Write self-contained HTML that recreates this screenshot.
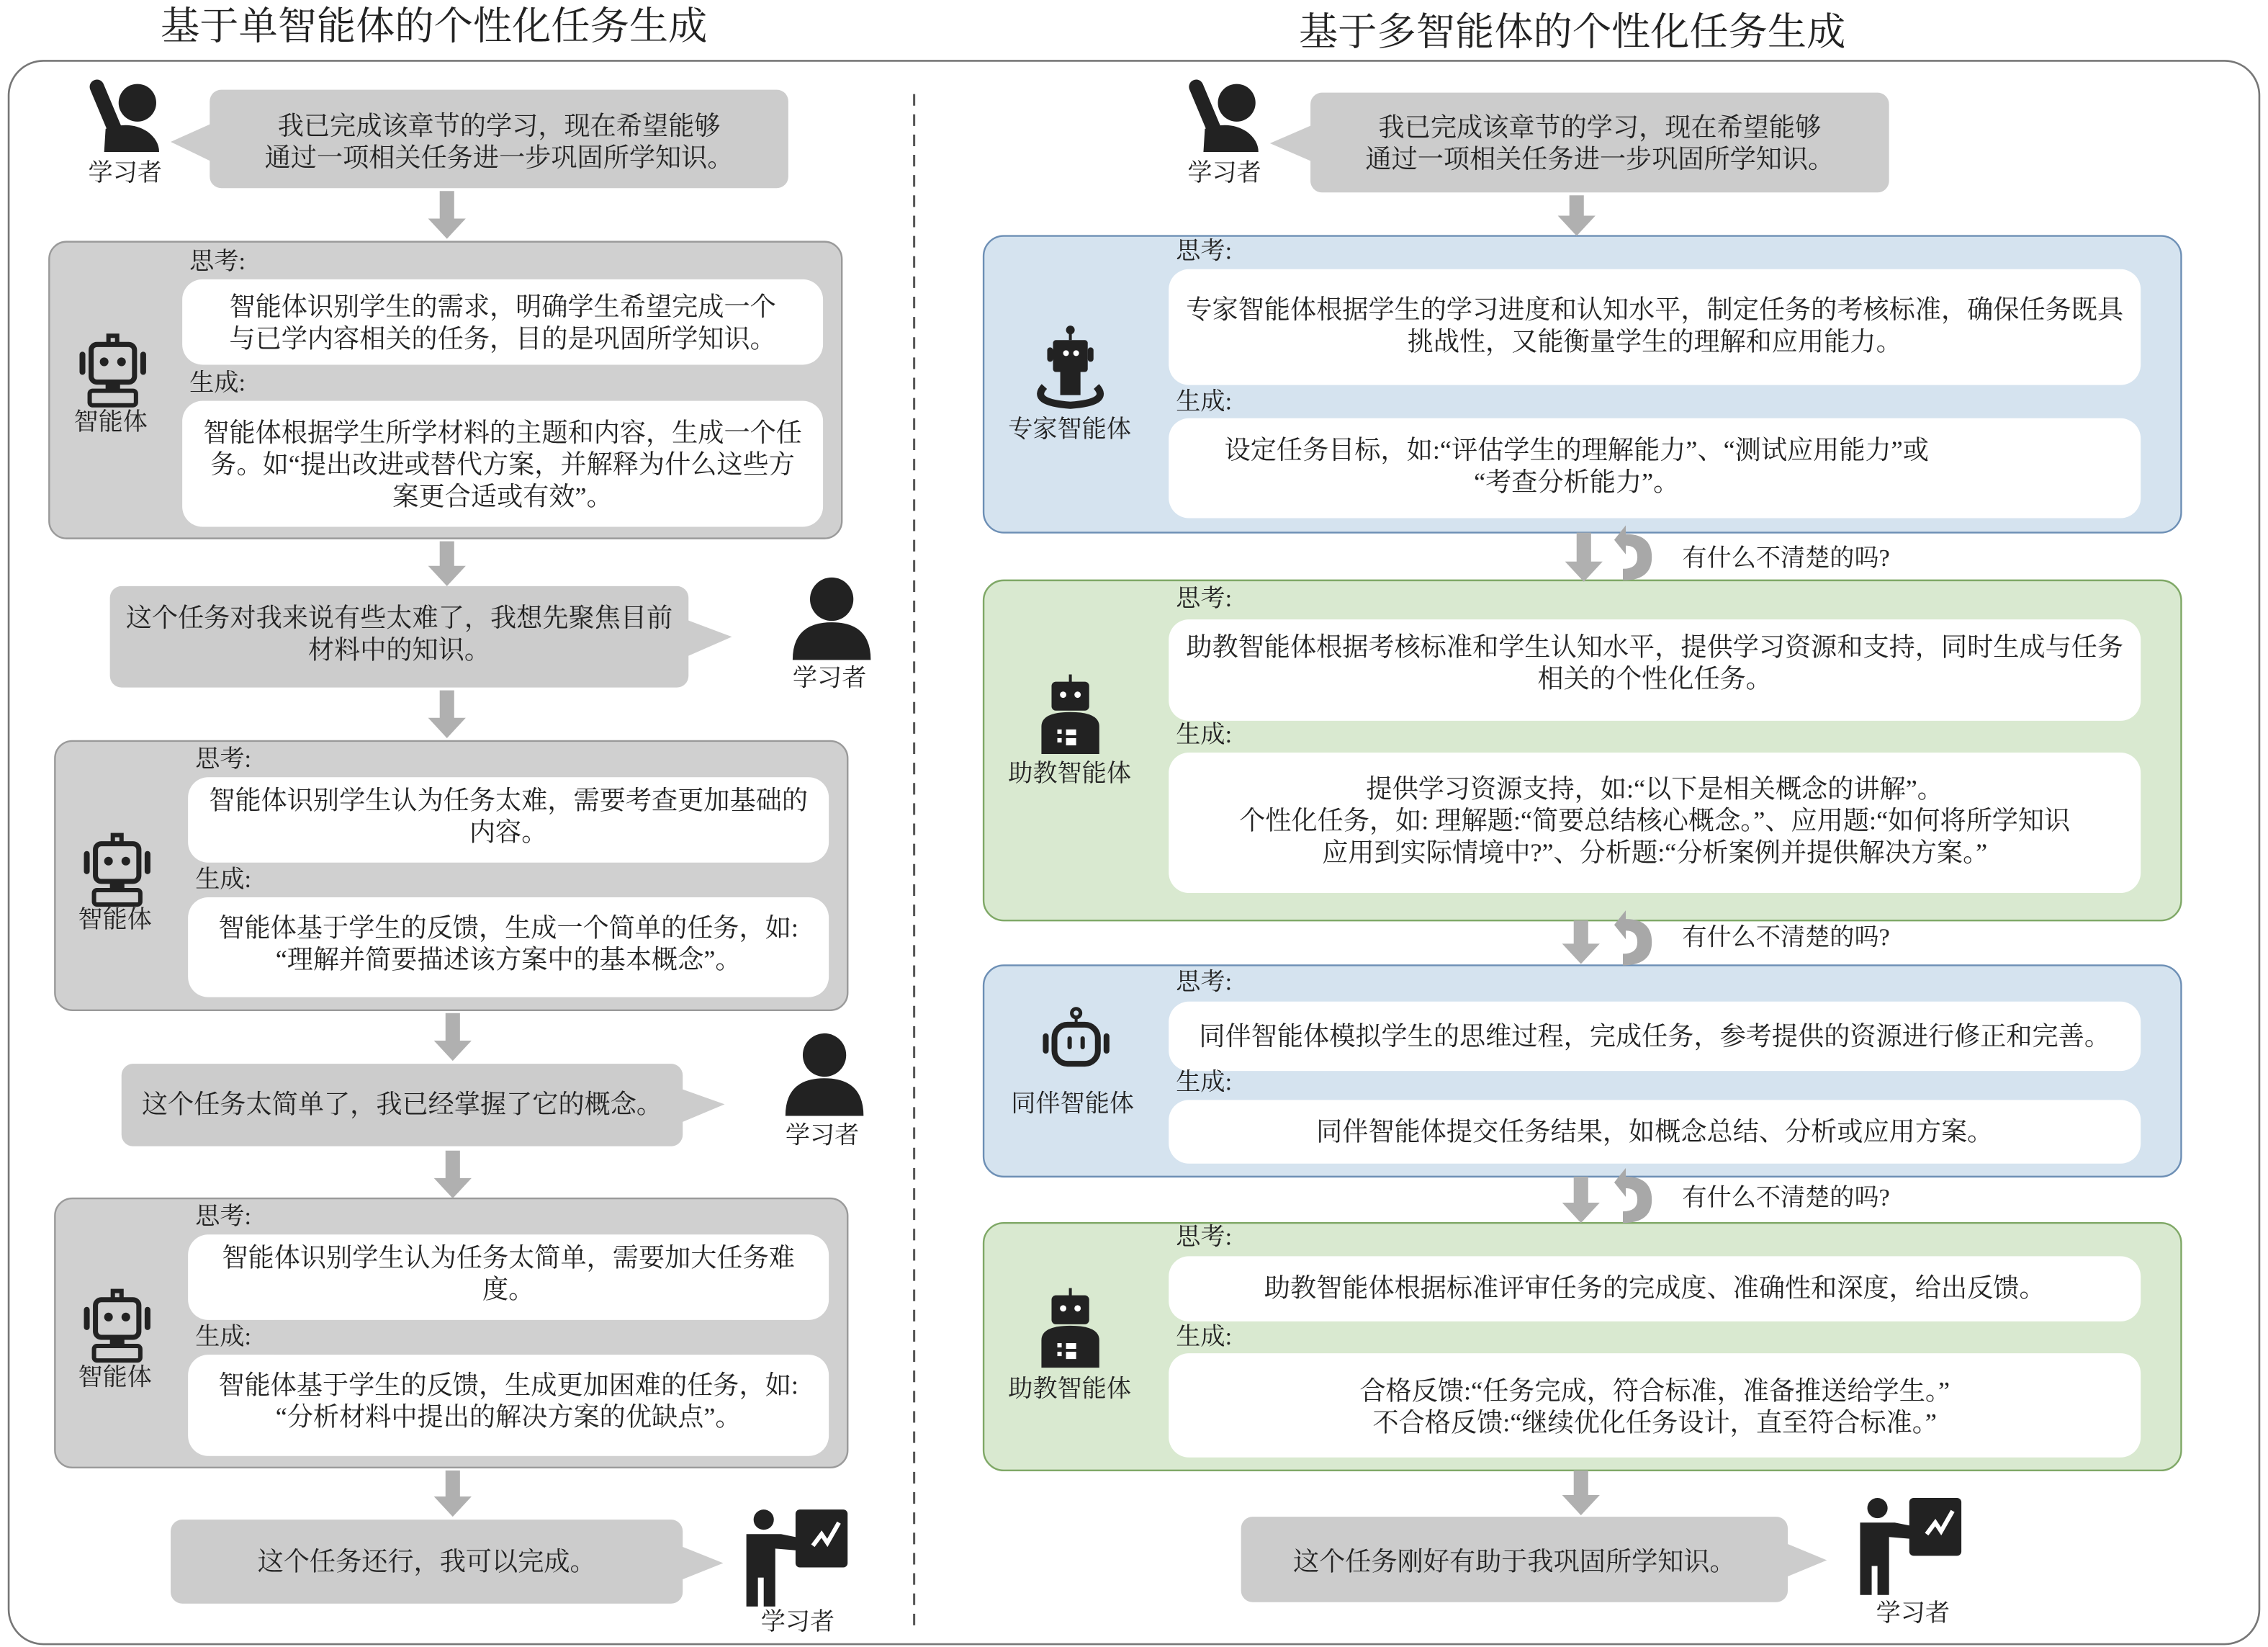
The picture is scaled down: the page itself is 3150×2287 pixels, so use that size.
<!DOCTYPE html>
<html><head><meta charset="utf-8"><style>
html,body{margin:0;padding:0;background:#fff;}
body{width:3150px;height:2287px;overflow:hidden;position:relative;}
#c{position:absolute;left:0;top:0;width:1568px;height:1138px;transform:scale(2.00893,2.0097);transform-origin:0 0;font-family:"Liberation Serif","Noto Serif CJK SC",serif;color:#222;}
svg{position:absolute;left:0;top:0;}
.t{position:absolute;text-align:center;font-size:18px;line-height:22px;white-space:nowrap;}
.l{position:absolute;font-size:17px;line-height:18px;white-space:nowrap;}
.h{position:absolute;font-size:27px;line-height:30px;white-space:nowrap;text-align:center;}
</style></head><body><div id="c">
<svg width="1568" height="1138" viewBox="0 0 1568 1138">
<defs>
<g id="arm"><circle cx="35" cy="16" r="13" fill="#222"/><line x1="7" y1="5" x2="20" y2="36" stroke="#222" stroke-width="10" stroke-linecap="round"/><path d="M12,50 L13,34 Q30,28 42,36 Q50,42 50,50 Z" fill="#222"/></g>
<g id="per"><circle cx="0" cy="-14" r="15" fill="#222"/><path d="M-27,28 Q-27,2 0,2 Q27,2 27,28 Z" fill="#222"/></g>
<g id="rob"><rect x="-3" y="-23" width="6" height="6" fill="none" stroke="#222" stroke-width="3"/><rect x="-15" y="-17" width="30" height="26" rx="4" fill="none" stroke="#222" stroke-width="3.5"/><circle cx="-6" cy="-5" r="3" fill="#222"/><circle cx="6" cy="-5" r="3" fill="#222"/><rect x="-23" y="-12" width="4" height="16" rx="2" fill="#222"/><rect x="19" y="-12" width="4" height="16" rx="2" fill="#222"/><rect x="-5" y="9" width="10" height="6" fill="#222"/><rect x="-16" y="15" width="32" height="10" rx="2" fill="none" stroke="#222" stroke-width="3"/></g>
<g id="pres"><circle cx="-22" cy="-30" r="7" fill="#222"/><path d="M-34,-20 L-10,-20 L10,-16 L10,-8 L-14,-10 L-14,30 L-22,30 L-22,10 L-26,10 L-26,30 L-34,30 Z" fill="#222"/><rect x="0" y="-37" width="36" height="40" rx="3" fill="#222"/><path d="M12,-12 L18,-20 L22,-14 L30,-28" stroke="#fff" stroke-width="3" fill="none"/></g>
<g id="curl"><path d="M-6,-16 Q12,-16 12,0 Q12,16 -8,16 L-8,8 Q2,8 2,0 Q2,-8 -6,-8 L-6,-2 L-14,-12 L-6,-22 Z" fill="#a8a8a8"/></g>
</defs>
<rect x="6" y="42" width="1556" height="1094" rx="24" fill="#fff" stroke="#777" stroke-width="1.3"/>
<line x1="632" y1="65" x2="632" y2="1125" stroke="#555" stroke-width="1.5" stroke-dasharray="8,6"/>
<g fill="#cccccc">
<rect x="145" y="62" width="400" height="68" rx="8"/><polygon points="147,85 118,98 147,112"/>
<rect x="76" y="405" width="400" height="70" rx="8"/><polygon points="474,428 506,440 474,454"/>
<rect x="84" y="735" width="388" height="57" rx="8"/><polygon points="470,752 501,763 470,776"/>
<rect x="118" y="1050" width="354" height="58" rx="8"/><polygon points="470,1068 500,1080 470,1092"/>
<rect x="906" y="64" width="400" height="69" rx="8"/><polygon points="908,86 878,99 908,112"/>
<rect x="858" y="1048" width="378" height="59" rx="8"/><polygon points="1234,1066 1263,1078 1234,1090"/>
</g>
<g stroke="#9a9a9a" stroke-width="1.2" fill="#d0d0d0">
<rect x="34" y="167" width="548" height="205" rx="12"/>
<rect x="38" y="512" width="548" height="186" rx="12"/>
<rect x="38" y="828" width="548" height="186" rx="12"/>
</g>
<rect x="680" y="163" width="828" height="205" rx="14" fill="#d5e3ef" stroke="#6d8fb5" stroke-width="1.2"/>
<rect x="680" y="401" width="828" height="235" rx="14" fill="#d9e9d0" stroke="#7fa866" stroke-width="1.2"/>
<rect x="680" y="667" width="828" height="146" rx="14" fill="#d5e3ef" stroke="#6d8fb5" stroke-width="1.2"/>
<rect x="680" y="845" width="828" height="171" rx="14" fill="#d9e9d0" stroke="#7fa866" stroke-width="1.2"/>
<g fill="#fff">
<rect x="126" y="193" width="443" height="59" rx="14"/><rect x="126" y="277" width="443" height="87" rx="14"/>
<rect x="130" y="537" width="443" height="59" rx="14"/><rect x="130" y="620" width="443" height="69" rx="14"/>
<rect x="130" y="853" width="443" height="59" rx="14"/><rect x="130" y="936" width="443" height="70" rx="14"/>
<rect x="808" y="186" width="672" height="80" rx="14"/><rect x="808" y="289" width="672" height="69" rx="14"/>
<rect x="808" y="428" width="672" height="70" rx="14"/><rect x="808" y="520" width="672" height="97" rx="14"/>
<rect x="808" y="692" width="672" height="48" rx="14"/><rect x="808" y="760" width="672" height="44" rx="14"/>
<rect x="808" y="868" width="672" height="45" rx="14"/><rect x="808" y="935" width="672" height="72" rx="14"/>
</g>
<g fill="#b0b0b0">
<polygon points="304,132 314,132 314,151 322,151 309,165 296,151 304,151"/>
<polygon points="304,374 314,374 314,391 322,391 309,405 296,391 304,391"/>
<polygon points="304,477 314,477 314,496 322,496 309,510 296,496 304,496"/>
<polygon points="308,700 318,700 318,719 326,719 313,733 300,719 308,719"/>
<polygon points="308,795 318,795 318,814 326,814 313,828 300,814 308,814"/>
<polygon points="308,1016 318,1016 318,1034 326,1034 313,1048 300,1034 308,1034"/>
<polygon points="1085,135 1095,135 1095,149 1103,149 1090,163 1077,149 1085,149"/>
<polygon points="1090,368 1100,368 1100,388 1108,388 1095,402 1082,388 1090,388"/>
<polygon points="1088,636 1098,636 1098,652 1106,652 1093,666 1080,652 1088,652"/>
<polygon points="1088,813 1098,813 1098,831 1106,831 1093,845 1080,831 1088,831"/>
<polygon points="1088,1016 1098,1016 1098,1033 1106,1033 1093,1047 1080,1033 1088,1033"/>
</g>
<use href="#curl" x="1130" y="385"/><use href="#curl" x="1130" y="651"/><use href="#curl" x="1130" y="829"/>
<use href="#arm" x="60" y="55"/><use href="#arm" x="820" y="55"/>
<use href="#per" x="575" y="428"/><use href="#per" x="570" y="743"/>
<use href="#pres" x="550" y="1080"/><use href="#pres" x="1320" y="1072"/>
<use href="#rob" x="78" y="255"/><use href="#rob" x="81" y="600"/><use href="#rob" x="81" y="915"/>
<g fill="#222"><circle cx="740" cy="228" r="3"/><rect x="739" y="229" width="2" height="6"/><rect x="728" y="235" width="24" height="22" rx="2"/><rect x="724" y="240" width="4" height="10" rx="2"/><rect x="752" y="240" width="4" height="10" rx="2"/><rect x="733" y="257" width="14" height="16"/></g>
<circle cx="737" cy="244" r="2" fill="#fff"/><circle cx="744" cy="244" r="2" fill="#fff"/>
<path d="M722,267 Q712,278 740,280 Q768,278 758,267" stroke="#222" stroke-width="5" fill="none"/>
<g fill="#222"><rect x="739" y="466" width="2" height="6"/><rect x="727" y="471" width="26" height="20" rx="3"/><path d="M720,521 L720,502 Q720,492 740,492 Q760,492 760,502 L760,521 Z"/>
<rect x="739" y="890" width="2" height="6"/><rect x="727" y="895" width="26" height="20" rx="3"/><path d="M720,945 L720,926 Q720,916 740,916 Q760,916 760,926 L760,945 Z"/></g>
<g fill="#fff"><circle cx="735" cy="480" r="2.2"/><circle cx="745" cy="480" r="2.2"/><rect x="737" y="504" width="7" height="4"/><rect x="737" y="510" width="7" height="5"/><rect x="731" y="504" width="3" height="3"/><rect x="731" y="510" width="3" height="3"/>
<circle cx="735" cy="904" r="2.2"/><circle cx="745" cy="904" r="2.2"/><rect x="737" y="928" width="7" height="4"/><rect x="737" y="934" width="7" height="5"/><rect x="731" y="928" width="3" height="3"/><rect x="731" y="934" width="3" height="3"/></g>
<circle cx="744" cy="700" r="3" fill="none" stroke="#222" stroke-width="2.5"/><rect x="743" y="703" width="2" height="5" fill="#222"/>
<rect x="729" y="708" width="30" height="27" rx="9" fill="none" stroke="#222" stroke-width="4"/>
<rect x="738" y="716" width="3" height="9" rx="1.5" fill="#222"/><rect x="747" y="716" width="3" height="9" rx="1.5" fill="#222"/>
<rect x="721" y="714" width="4" height="14" rx="2" fill="#222"/><rect x="763" y="714" width="4" height="14" rx="2" fill="#222"/>
</svg>
<div class="h" style="left:80px;top:3px;width:440px">基于单智能体的个性化任务生成</div>
<div class="h" style="left:867px;top:7px;width:440px">基于多智能体的个性化任务生成</div>
<div class="l" style="left:61px;top:111px">学习者</div>
<div class="l" style="left:821px;top:111px">学习者</div>
<div class="l" style="left:548px;top:460px">学习者</div>
<div class="l" style="left:543px;top:776px">学习者</div>
<div class="l" style="left:526px;top:1112px">学习者</div>
<div class="l" style="left:1297px;top:1106px">学习者</div>
<div class="l" style="left:51px;top:283px">智能体</div>
<div class="l" style="left:54px;top:627px">智能体</div>
<div class="l" style="left:54px;top:943px">智能体</div>
<div class="l" style="left:697px;top:288px">专家智能体</div>
<div class="l" style="left:697px;top:526px">助教智能体</div>
<div class="l" style="left:699px;top:754px">同伴智能体</div>
<div class="l" style="left:697px;top:951px">助教智能体</div>
<div class="l" style="left:131px;top:172px">思考:</div><div class="l" style="left:131px;top:256px">生成:</div>
<div class="l" style="left:135px;top:516px">思考:</div><div class="l" style="left:135px;top:599px">生成:</div>
<div class="l" style="left:135px;top:832px">思考:</div><div class="l" style="left:135px;top:915px">生成:</div>
<div class="l" style="left:813px;top:165px">思考:</div><div class="l" style="left:813px;top:269px">生成:</div>
<div class="l" style="left:813px;top:405px">思考:</div><div class="l" style="left:813px;top:499px">生成:</div>
<div class="l" style="left:813px;top:670px">思考:</div><div class="l" style="left:813px;top:739px">生成:</div>
<div class="l" style="left:813px;top:846px">思考:</div><div class="l" style="left:813px;top:915px">生成:</div>
<div class="l" style="left:1163px;top:377px">有什么不清楚的吗?</div>
<div class="l" style="left:1163px;top:639px">有什么不清楚的吗?</div>
<div class="l" style="left:1163px;top:819px">有什么不清楚的吗?</div>
<div class="t" style="left:145px;top:76px;width:400px">我已完成该章节的学习，现在希望能够<br>通过一项相关任务进一步巩固所学知识。</div>
<div class="t" style="left:906px;top:77px;width:400px">我已完成该章节的学习，现在希望能够<br>通过一项相关任务进一步巩固所学知识。</div>
<div class="t" style="left:126px;top:201px;width:443px">智能体识别学生的需求，明确学生希望完成一个<br>与已学内容相关的任务，目的是巩固所学知识。</div>
<div class="t" style="left:126px;top:288px;width:443px">智能体根据学生所学材料的主题和内容，生成一个任<br>务。如“提出改进或替代方案，并解释为什么这些方<br>案更合适或有效”。</div>
<div class="t" style="left:76px;top:416px;width:400px">这个任务对我来说有些太难了，我想先聚焦目前<br>材料中的知识。</div>
<div class="t" style="left:130px;top:542px;width:443px">智能体识别学生认为任务太难，需要考查更加基础的<br>内容。</div>
<div class="t" style="left:130px;top:630px;width:443px">智能体基于学生的反馈，生成一个简单的任务，如:<br>“理解并简要描述该方案中的基本概念”。</div>
<div class="t" style="left:84px;top:752px;width:388px">这个任务太简单了，我已经掌握了它的概念。</div>
<div class="t" style="left:130px;top:858px;width:443px">智能体识别学生认为任务太简单，需要加大任务难<br>度。</div>
<div class="t" style="left:130px;top:946px;width:443px">智能体基于学生的反馈，生成更加困难的任务，如:<br>“分析材料中提出的解决方案的优缺点”。</div>
<div class="t" style="left:118px;top:1068px;width:354px">这个任务还行，我可以完成。</div>
<div class="t" style="left:808px;top:203px;width:672px">专家智能体根据学生的学习进度和认知水平，制定任务的考核标准，确保任务既具<br>挑战性，又能衡量学生的理解和应用能力。</div>
<div class="t" style="left:790px;top:300px;width:600px">设定任务目标，如:“评估学生的理解能力”、“测试应用能力”或<br>“考查分析能力”。</div>
<div class="t" style="left:808px;top:436px;width:672px">助教智能体根据考核标准和学生认知水平，提供学习资源和支持，同时生成与任务<br>相关的个性化任务。</div>
<div class="t" style="left:808px;top:534px;width:672px">提供学习资源支持，如:“以下是相关概念的讲解”。<br>个性化任务，如: 理解题:“简要总结核心概念。”、应用题:“如何将所学知识<br>应用到实际情境中?”、分析题:“分析案例并提供解决方案。”</div>
<div class="t" style="left:808px;top:705px;width:672px">同伴智能体模拟学生的思维过程，完成任务，参考提供的资源进行修正和完善。</div>
<div class="t" style="left:808px;top:771px;width:672px">同伴智能体提交任务结果，如概念总结、分析或应用方案。</div>
<div class="t" style="left:808px;top:879px;width:672px">助教智能体根据标准评审任务的完成度、准确性和深度，给出反馈。</div>
<div class="t" style="left:808px;top:950px;width:672px">合格反馈:“任务完成，符合标准，准备推送给学生。”<br>不合格反馈:“继续优化任务设计，直至符合标准。”</div>
<div class="t" style="left:858px;top:1068px;width:378px">这个任务刚好有助于我巩固所学知识。</div>
</div></body></html>
